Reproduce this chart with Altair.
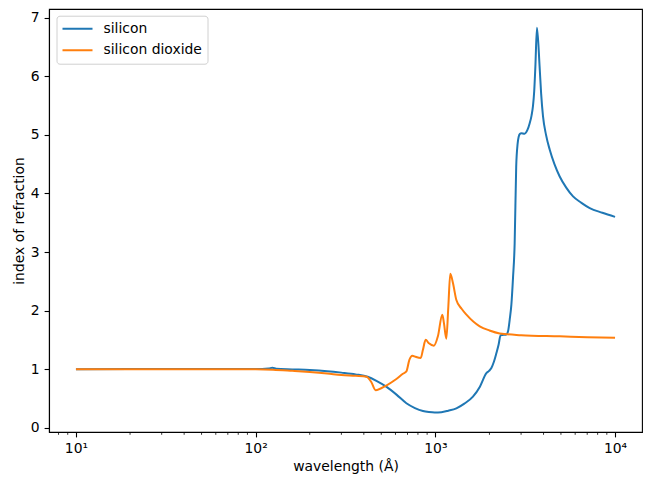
import altair as alt
import pandas as pd

# Refractive index vs wavelength (Angstrom)
si_wavelength = [10, 20, 40, 70, 100, 118, 124, 130, 160, 200, 250, 300, 360, 420,
                 470, 533, 610, 690, 770, 853, 920, 991, 1080, 1180, 1309, 1450,
                 1619, 1770, 1923, 1990, 2050, 2120, 2185, 2250, 2307, 2400, 2483,
                 2540, 2594, 2649, 2704, 2763, 2818, 2870, 2909, 2960, 3009, 3138, 3250,
                 3350, 3430, 3493, 3550, 3603, 3677, 3803, 3880, 3972, 4130, 4327,
                 4600, 4920, 5350, 5837, 6500, 7230, 8500, 10000]
si_n = [0.999, 1.0, 1.0, 1.0, 1.0, 1.01, 1.025, 1.005, 0.995, 0.985, 0.965, 0.94,
        0.91, 0.87, 0.80, 0.70, 0.56, 0.417, 0.335, 0.285, 0.268, 0.26, 0.265, 0.29,
        0.33, 0.41, 0.53, 0.70, 0.93, 0.97, 1.02, 1.13, 1.27, 1.42, 1.58, 1.585,
        1.59, 1.65, 1.85, 2.1, 2.55, 3.15, 4.46, 4.85, 4.97, 5.02, 5.03, 5.02, 5.08, 5.2,
        5.33, 5.49, 5.75, 6.17, 6.83, 6.17, 5.7, 5.32, 5.0, 4.75, 4.5, 4.29, 4.1,
        3.95, 3.84, 3.75, 3.67, 3.6]

sio2_wavelength = [10, 20, 40, 70, 100, 125, 160, 200, 250, 300, 360, 414, 440, 465,
                   533, 607, 660, 690, 717, 745, 776, 829, 853, 883, 921, 982, 1033,
                   1093, 1117, 1151, 1181, 1211, 1253, 1309, 1400, 1489, 1766, 2000,
                   2280, 3000, 4920, 7000, 10000]
sio2_n = [0.999, 0.999, 0.999, 0.998, 0.997, 0.99, 0.97, 0.95, 0.925, 0.90, 0.885,
          0.87, 0.78, 0.64, 0.72, 0.83, 0.92, 0.96, 1.16, 1.23, 1.21, 1.19, 1.33,
          1.50, 1.44, 1.40, 1.56, 1.93, 1.78, 1.52, 2.07, 2.63, 2.47, 2.18, 2.03,
          1.93, 1.73, 1.66, 1.61, 1.58, 1.56, 1.545, 1.535]

materials = ["silicon", "silicon dioxide"]
colors = ["#1f77b4", "#ff7f0e"]

major_ticks = [10, 100, 1000, 10000]
minor_ticks = [m * 10 ** k for k in range(0, 4) for m in range(2, 10)
               if 7.08 < m * 10 ** k < 14125]

x_domain = [10 ** 0.85, 10 ** 4.15]
y_domain = [-0.074, 7.15]

df = pd.concat([
    pd.DataFrame({"wavelength": si_wavelength, "n": si_n, "material": materials[0]}),
    pd.DataFrame({"wavelength": sio2_wavelength, "n": sio2_n, "material": materials[1]}),
])
minor_df = pd.DataFrame({"tick": minor_ticks})

FONT = "DejaVu Sans"
FS = 13.9
W, H = 593, 423

x_scale = alt.Scale(type="log", domain=x_domain, nice=False)
x_axis = alt.Axis(values=major_ticks, title="wavelength (Å)",
                  labelExpr="'10' + ['⁰','¹','²','³','⁴','⁵'][round(log(datum.value)/LN10)]",
                  tickSize=4.9, tickWidth=1.1, labelPadding=4.9, titlePadding=4,
                  labelFont=FONT, titleFont=FONT, labelFontSize=FS, titleFontSize=FS)

lines = alt.Chart(df).mark_line(strokeWidth=2, interpolate="monotone").encode(
    x=alt.X("wavelength:Q", scale=x_scale, axis=x_axis),
    y=alt.Y("n:Q", scale=alt.Scale(domain=y_domain, nice=False, zero=False),
            axis=alt.Axis(values=list(range(0, 8)), title="index of refraction",
                          tickSize=4.9, tickWidth=1.1, labelPadding=4.9,
                          titlePadding=4, labelFont=FONT, titleFont=FONT,
                          labelFontSize=FS, titleFontSize=FS)),
    color=alt.Color("material:N",
                    scale=alt.Scale(domain=materials, range=colors),
                    legend=alt.Legend(title=None, orient="none", legendX=7.5, legendY=6.7,
                                      symbolType="stroke", symbolSize=900,
                                      symbolStrokeWidth=2, clipHeight=16,
                                      rowPadding=5.6, labelFontSize=FS, labelFont=FONT,
                                      labelColor="black", labelOffset=10, padding=5,
                                      strokeColor="#d0d0d0",
                                      fillColor="rgba(255,255,255,0.8)",
                                      cornerRadius=3)),
)

# minor ticks of the log axis, hanging below the bottom spine
minor = alt.Chart(minor_df).mark_rule(color="black", strokeWidth=0.8).encode(
    x=alt.X("tick:Q", scale=x_scale, axis=x_axis),
    y=alt.value(H),
    y2=alt.value(H + 2.8),
)

chart = alt.layer(lines, minor).properties(
    width=W, height=H,
    autosize=alt.AutoSizeParams(type="none"),
    padding={"left": 49, "top": 9, "right": 651 - 49 - W, "bottom": 491 - 9 - H},
    background="white",
).configure(
    font=FONT
).configure_view(
    stroke="black", strokeWidth=1.1
).configure_axis(
    grid=False, domainColor="black", domainWidth=1.1, tickColor="black",
    labelFont=FONT, labelFontSize=FS, labelColor="black",
    titleFont=FONT, titleFontSize=FS, titleFontWeight="normal", titleColor="black",
).configure_legend(
    labelFont=FONT, labelFontSize=FS
)

chart.save("out.html", embed_options={"renderer": "svg", "actions": False})
